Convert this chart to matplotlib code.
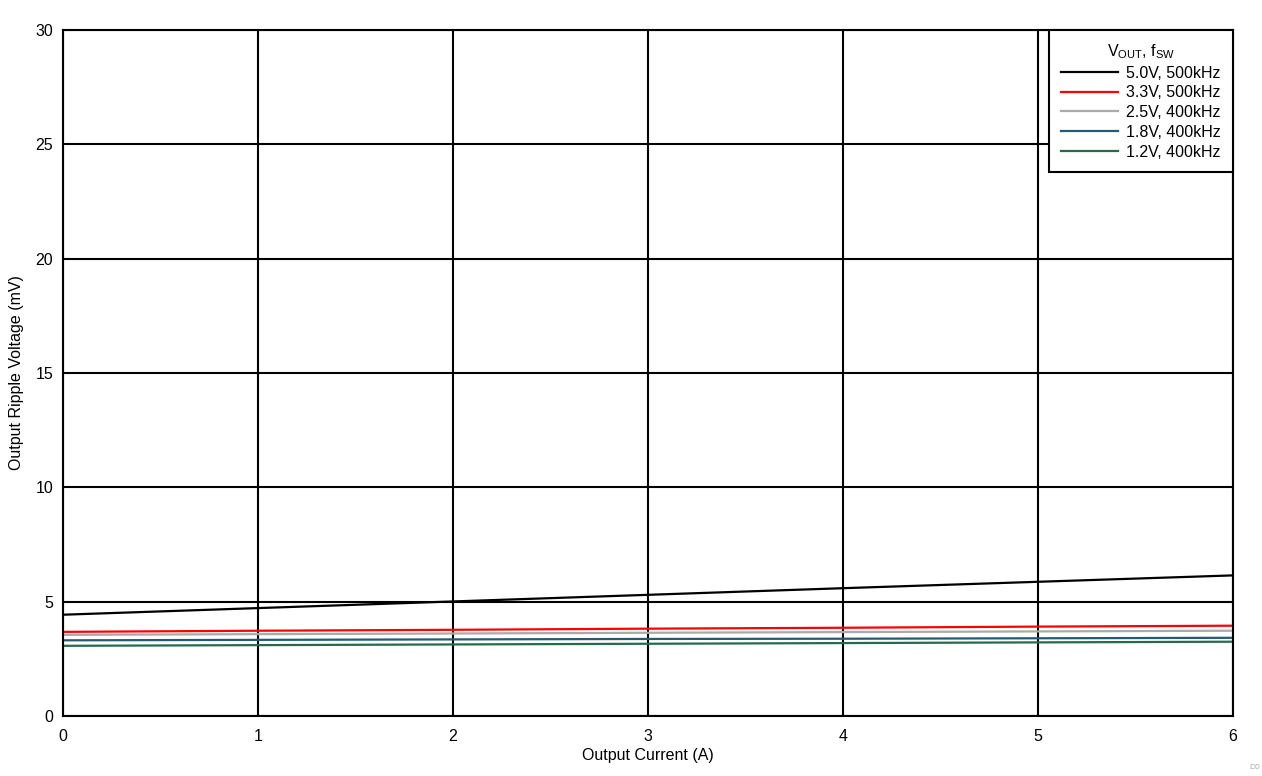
import matplotlib
matplotlib.use("Agg")
from matplotlib import pyplot as plt

plt.rcParams['font.family'] = ['Liberation Sans', 'DejaVu Sans']

# output current (A)
current = [0, 1, 2, 3, 4, 5, 6]

# output ripple voltage (mV) per configuration
v50 = [4.43, 4.72, 5.01, 5.30, 5.59, 5.87, 6.15]
v33 = [3.68, 3.73, 3.77, 3.82, 3.86, 3.91, 3.95]
v25 = [3.55, 3.58, 3.61, 3.64, 3.67, 3.70, 3.73]
v18 = [3.31, 3.33, 3.35, 3.37, 3.38, 3.40, 3.42]
v12 = [3.07, 3.10, 3.13, 3.16, 3.19, 3.22, 3.25]

labels = ['5.0V, 500kHz', '3.3V, 500kHz', '2.5V, 400kHz', '1.8V, 400kHz', '1.2V, 400kHz']
colors = ['#000000', '#ff0000', '#aaaaaa', '#255a75', '#246b4c']

fs = 11.5

fig = plt.figure(figsize=(12.62, 7.76), dpi=100)
ax = fig.add_axes([0.0499, 0.0773, 0.9271, 0.884])

for ys, lab, c in zip([v50, v33, v25, v18, v12], labels, colors):
    ax.plot(current, ys, '-', color=c, lw=1.6, label=lab)

ax.set_xlim(0, 6)
ax.set_ylim(0, 30)
ax.set_xticks(range(0, 7))
ax.set_yticks(range(0, 31, 5))
ax.grid(True, color='black', lw=1.5)
ax.set_axisbelow(True)
for s in ax.spines.values():
    s.set_linewidth(1.5)
ax.tick_params(axis='x', length=0, pad=9, labelsize=fs)
ax.tick_params(axis='y', length=0, pad=7, labelsize=fs)

ax.set_xlabel('Output Current (A)', fontsize=fs, labelpad=3)
ax.set_ylabel('Output Ripple Voltage (mV)', fontsize=fs, labelpad=8)

leg = ax.legend(title='V$_{\\mathregular{OUT}}$, f$_{\\mathregular{SW}}$', loc='upper right',
                bbox_to_anchor=(1.0, 1.0), fontsize=fs, title_fontsize=fs,
                fancybox=False, framealpha=1, edgecolor='black', borderaxespad=0,
                handlelength=3.6, handletextpad=0.5, labelspacing=0.3, borderpad=0.75)
leg.get_frame().set_linewidth(1.5)

fig.text(0.9985, 0.006, 'D0', fontsize=6, color='#aaaaaa', ha='right', va='bottom')

fig.savefig('out.png', dpi=100)
